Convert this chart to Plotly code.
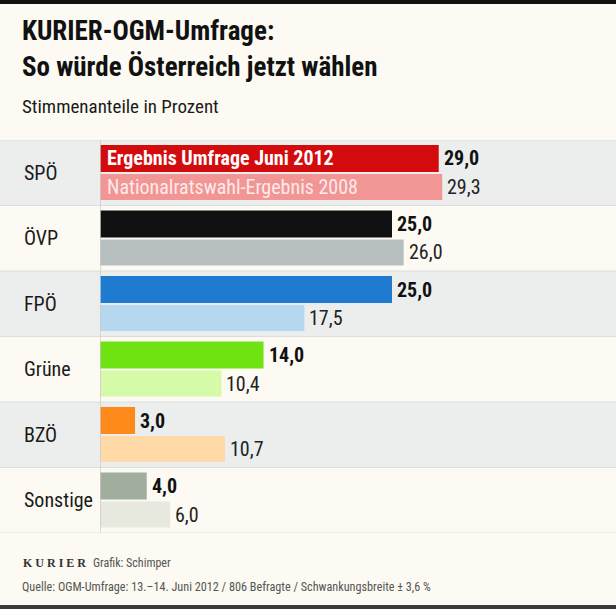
import plotly.graph_objects as go

W, H = 616, 609

parties = ["SPÖ", "ÖVP", "FPÖ", "Grüne", "BZÖ", "Sonstige"]
umfrage_2012 = [29.0, 25.0, 25.0, 14.0, 3.0, 4.0]
wahl_2008 = [29.3, 26.0, 17.5, 10.4, 10.7, 6.0]
colors_2012 = ["#D30B0D", "#111111", "#1F7BCF", "#6FE311", "#FF8A1C", "#A1AD9D"]
colors_2008 = ["#F29595", "#B8BFBF", "#B6D8EE", "#D5FBA9", "#FFD9A6", "#E7E8DE"]
series_names = ["Ergebnis Umfrage Juni 2012", "Nationalratswahl-Ergebnis 2008"]

title_1 = "KURIER-OGM-Umfrage:"
title_2 = "So würde Österreich jetzt wählen"
subtitle = "Stimmenanteile in Prozent"
credit_logo = "K U R I E R"
credit = "Grafik: Schimper"
source = "Quelle: OGM-Umfrage: 13.–14. Juni 2012 / 806 Befragte / Schwankungsbreite ± 3,6 %"

FONT = "Roboto Condensed, DejaVu Sans Condensed, sans-serif"
BG = "#FCFAF2"
ROW_GRAY = "#ECEEEE"

def px(x):
    return x / W

def py(y):
    return 1 - y / H

ROW_TOP, ROW_BOTTOM = 140, 533
ROW_H = (ROW_BOTTOM - ROW_TOP) / len(parties)
X0 = 100
SCALE = 11.68

off1, w1 = -0.5 + 5 / ROW_H, 27 / ROW_H
off2, w2 = -0.5 + 34 / ROW_H, 26 / ROW_H

ypos = list(range(len(parties)))

fig = go.Figure()
fig.add_trace(go.Bar(
    y=ypos, x=umfrage_2012, orientation="h",
    marker=dict(color=colors_2012, line=dict(width=0)),
    offset=off1, width=w1, name=series_names[0], hoverinfo="x",
))
fig.add_trace(go.Bar(
    y=ypos, x=wahl_2008, orientation="h",
    marker=dict(color=colors_2008, line=dict(width=0)),
    offset=off2, width=w2, name=series_names[1], hoverinfo="x",
))

shapes = []
for i in ypos:
    shapes.append(dict(type="rect", xref="paper", yref="y", x0=0, x1=1,
                       y0=i - 0.5, y1=i + 0.5,
                       fillcolor=ROW_GRAY if i % 2 == 0 else BG,
                       line=dict(width=0), layer="below"))
for i in range(len(parties) + 1):
    shapes.append(dict(type="line", xref="paper", yref="y", x0=0, x1=1,
                       y0=i - 0.5, y1=i - 0.5,
                       line=dict(color="#DCDEDE", width=1), layer="below"))
shapes.append(dict(type="line", xref="x", yref="y", x0=0, x1=0,
                   y0=-0.5, y1=len(parties) - 0.5,
                   line=dict(color="#C9CDCD", width=1.5), layer="above"))
shapes.append(dict(type="rect", xref="paper", yref="paper", x0=0, x1=1,
                   y0=py(4), y1=1, fillcolor="#111111", line=dict(width=0)))
shapes.append(dict(type="rect", xref="paper", yref="paper", x0=0, x1=1,
                   y0=0, y1=py(605), fillcolor="#3A3A3A", line=dict(width=0)))

ann = []
def fmt(v):
    return f"{v:.1f}".replace(".", ",")

for i, p in enumerate(parties):
    ann.append(dict(x=px(22), xref="paper", y=i, yref="y", text=p,
                    xanchor="left", yanchor="middle", showarrow=False,
                    font=dict(family=FONT, size=20, color="#1A1A1A")))
    ann.append(dict(x=umfrage_2012[i], xref="x", y=i + off1 + w1 / 2, yref="y",
                    text=f"<b>{fmt(umfrage_2012[i])}</b>", xanchor="left", yanchor="middle",
                    xshift=3, showarrow=False,
                    font=dict(family=FONT, size=20, color="#111111")))
    ann.append(dict(x=wahl_2008[i], xref="x", y=i + off2 + w2 / 2, yref="y",
                    text=fmt(wahl_2008[i]), xanchor="left", yanchor="middle",
                    xshift=3, showarrow=False,
                    font=dict(family=FONT, size=20, color="#222222")))

ann.append(dict(x=0, xref="x", y=0 + off1 + w1 / 2, yref="y",
                text=f"<b>{series_names[0]}</b>", xanchor="left", yanchor="middle",
                xshift=5, showarrow=False,
                font=dict(family=FONT, size=20, color="#FFFFFF")))
ann.append(dict(x=0, xref="x", y=0 + off2 + w2 / 2, yref="y",
                text=series_names[1], xanchor="left", yanchor="middle",
                xshift=5, showarrow=False,
                font=dict(family=FONT, size=20, color="#FDEAEA")))

ann.append(dict(x=px(20), xref="paper", y=py(31), yref="paper", text=f"<b>{title_1}</b>",
                xanchor="left", yanchor="middle", showarrow=False,
                font=dict(family=FONT, size=27, color="#111111")))
ann.append(dict(x=px(20), xref="paper", y=py(67), yref="paper", text=f"<b>{title_2}</b>",
                xanchor="left", yanchor="middle", showarrow=False,
                font=dict(family=FONT, size=27, color="#111111")))
ann.append(dict(x=px(20), xref="paper", y=py(106), yref="paper", text=subtitle,
                xanchor="left", yanchor="middle", showarrow=False,
                font=dict(family=FONT, size=19, color="#1A1A1A")))
ann.append(dict(x=px(21), xref="paper", y=py(563), yref="paper", text=f"<b>{credit_logo}</b>",
                xanchor="left", yanchor="middle", showarrow=False,
                font=dict(family="Liberation Serif, serif", size=12, color="#333333")))
ann.append(dict(x=px(91), xref="paper", y=py(563), yref="paper", text=credit,
                xanchor="left", yanchor="middle", showarrow=False,
                font=dict(family=FONT, size=12, color="#555555")))
ann.append(dict(x=px(20), xref="paper", y=py(587), yref="paper", text=source,
                xanchor="left", yanchor="middle", showarrow=False,
                font=dict(family=FONT, size=12.2, color="#555555")))

fig.update_layout(
    width=W, height=H,
    margin=dict(l=0, r=0, t=0, b=0),
    paper_bgcolor=BG, plot_bgcolor="rgba(0,0,0,0)",
    barmode="overlay", showlegend=False,
    shapes=shapes, annotations=ann,
    xaxis=dict(domain=[px(X0), 1], range=[0, (W - X0) / SCALE],
               showgrid=False, zeroline=False, showticklabels=False, fixedrange=True),
    yaxis=dict(domain=[py(ROW_BOTTOM), py(ROW_TOP)], range=[len(parties) - 0.5, -0.5],
               showgrid=False, zeroline=False, showticklabels=False, fixedrange=True),
)

fig.write_html("out.html", config={"displayModeBar": False},
               post_script="document.body.style.margin='0';")
